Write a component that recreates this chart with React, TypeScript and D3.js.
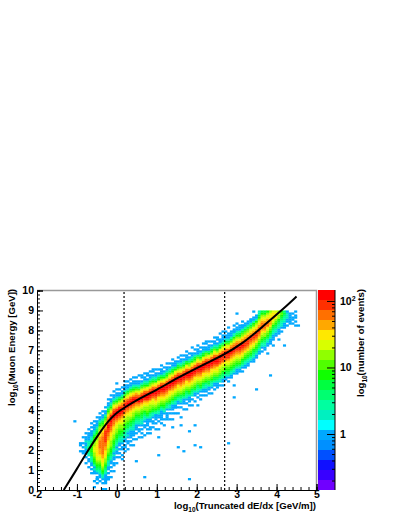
import React, { useRef, useEffect } from "react";
import * as d3 from "d3";

// 100 x 100 histogram, x from -2 to 5, y from 0 to 10
const xBinWidth = 0.07;
const yBinWidth = 0.1;
const firstColumn = 15;

// first filled y bin of each column, starting at firstColumn
const columnStarts = [
  19, 18, 13, 11, 8, 4, 3, 4, 0, 3, 5, 6, 9, 13, 16, 15, 19, 20, 22, 22,
  25, 25, 26, 27, 27, 28, 29, 29, 30, 31, 31, 32, 33, 34, 35, 36, 36, 37, 38, 38,
  39, 40, 41, 41, 42, 43, 43, 44, 45, 45, 46, 47, 48, 48, 49, 50, 51, 51, 52, 53,
  54, 55, 56, 57, 59, 60, 61, 62, 63, 65, 66, 67, 68, 70, 71, 74, 76, 82,
];

// events per y bin
const columnCounts = [
  [1, 0, 0, 1, 1],
  [1, 1, 0, 1, 0, 1, 0, 0, 1],
  [1, 0, 0, 1, 0, 1, 1, 1, 2, 1, 1, 2, 1, 1, 0, 1],
  [1, 0, 0, 1, 1, 0, 2, 3, 4, 5, 4, 3, 3, 2, 1, 1, 1, 1, 0, 1],
  [1, 0, 1, 0, 1, 1, 2, 3, 3, 6, 6, 7, 9, 9, 8, 6, 5, 3, 2, 1, 1, 1, 0, 1, 0, 1],
  [1, 0, 0, 0, 1, 1, 2, 1, 3, 5, 7, 9, 12, 15, 18, 20, 22, 20, 17, 14, 12, 9, 7, 5, 3, 2, 1, 1, 1, 0, 1],
  [1, 0, 1, 1, 0, 1, 2, 4, 6, 9, 12, 15, 19, 23, 28, 32, 34, 34, 32, 28, 24, 20, 17, 14, 11, 8, 6, 4, 2, 1, 1, 1, 0, 1],
  [1, 0, 1, 1, 2, 3, 4, 6, 8, 11, 15, 19, 24, 31, 38, 45, 50, 52, 54, 54, 52, 48, 42, 36, 30, 24, 18, 13, 9, 6, 3, 1, 1, 0, 1],
  [1, 0, 0, 1, 0, 1, 2, 3, 5, 8, 11, 15, 19, 24, 30, 36, 42, 48, 52, 56, 60, 66, 70, 72, 70, 66, 58, 50, 42, 33, 25, 18, 12, 8, 5, 3, 1, 1, 0, 1],
  [1, 0, 1, 1, 1, 2, 3, 4, 6, 8, 11, 14, 18, 22, 26, 31, 36, 42, 50, 58, 66, 74, 84, 92, 96, 90, 78, 62, 46, 34, 24, 16, 10, 6, 3, 1, 1, 0, 1],
  [1, 1, 0, 1, 0, 1, 1, 2, 2, 3, 5, 6, 8, 11, 13, 16, 19, 23, 27, 32, 38, 45, 54, 64, 76, 90, 104, 112, 100, 80, 58, 40, 26, 16, 9, 5, 2, 1, 1, 0, 1],
  [1, 0, 0, 1, 0, 1, 0, 1, 1, 2, 3, 4, 5, 7, 9, 11, 13, 15, 18, 21, 25, 30, 36, 44, 54, 66, 82, 100, 122, 130, 104, 74, 48, 30, 17, 9, 4, 2, 1, 1, 0, 1],
  [1, 0, 0, 1, 1, 0, 1, 1, 2, 1, 2, 3, 5, 6, 8, 9, 12, 14, 17, 20, 24, 29, 35, 43, 54, 68, 88, 112, 135, 120, 88, 58, 36, 20, 11, 5, 2, 1, 1, 0, 1],
  [1, 0, 0, 1, 0, 1, 1, 2, 1, 2, 3, 4, 5, 7, 9, 11, 13, 16, 20, 25, 32, 42, 56, 78, 108, 135, 116, 80, 50, 30, 16, 8, 4, 2, 1, 1, 0, 1],
  [1, 0, 1, 0, 1, 0, 1, 1, 2, 3, 4, 5, 7, 9, 11, 14, 18, 23, 30, 42, 58, 82, 115, 138, 112, 76, 48, 28, 15, 8, 4, 1, 1, 0, 1],
  [1, 0, 1, 0, 0, 1, 1, 0, 1, 2, 2, 3, 5, 6, 8, 10, 13, 16, 20, 26, 34, 46, 64, 92, 125, 135, 100, 68, 42, 24, 13, 6, 3, 1, 1, 0, 1],
  [1, 0, 1, 1, 0, 1, 1, 2, 2, 3, 4, 6, 7, 9, 11, 14, 18, 24, 32, 44, 62, 92, 125, 130, 94, 62, 38, 22, 12, 6, 3, 1, 1, 1, 0, 1],
  [1, 0, 0, 1, 1, 0, 1, 2, 1, 2, 3, 5, 6, 8, 11, 14, 18, 24, 32, 44, 64, 95, 128, 128, 90, 60, 36, 21, 11, 5, 2, 1, 1, 0, 1],
  [1, 0, 1, 0, 1, 1, 1, 1, 2, 3, 5, 6, 8, 11, 14, 19, 25, 34, 48, 70, 100, 130, 118, 84, 54, 33, 19, 10, 5, 2, 1, 1, 0, 1],
  [1, 0, 0, 1, 0, 1, 1, 1, 2, 2, 3, 4, 6, 8, 10, 14, 18, 24, 33, 48, 70, 102, 128, 112, 78, 50, 30, 17, 9, 4, 2, 1, 1, 0, 1],
  [1, 0, 0, 1, 0, 1, 1, 1, 2, 3, 4, 6, 8, 11, 15, 21, 30, 46, 70, 102, 126, 100, 64, 38, 21, 11, 5, 2, 1, 1, 0, 1],
  [0, 1, 0, 0, 1, 1, 0, 1, 2, 3, 4, 6, 9, 12, 15, 22, 32, 48, 72, 104, 128, 96, 62, 36, 20, 10, 4, 2, 1, 1, 0, 0, 1],
  [1, 0, 1, 0, 1, 0, 1, 2, 2, 3, 5, 6, 9, 12, 16, 22, 31, 47, 74, 108, 132, 98, 60, 35, 19, 10, 5, 2, 1, 0, 1, 1],
  [1, 0, 0, 0, 1, 1, 0, 1, 2, 2, 4, 6, 9, 13, 17, 23, 33, 50, 76, 106, 130, 94, 58, 34, 18, 9, 4, 2, 1, 1, 0, 1],
  [0, 1, 0, 1, 0, 1, 1, 1, 1, 3, 5, 7, 10, 13, 18, 24, 34, 50, 78, 110, 134, 96, 60, 35, 19, 9, 4, 2, 1, 0, 1, 1],
  [1, 0, 0, 1, 0, 0, 1, 1, 2, 3, 4, 7, 10, 14, 18, 25, 35, 52, 78, 108, 136, 98, 61, 34, 18, 10, 5, 2, 1, 1, 0, 1],
  [0, 0, 1, 0, 1, 1, 0, 1, 2, 2, 5, 7, 10, 14, 19, 25, 36, 54, 80, 112, 132, 94, 58, 33, 18, 9, 4, 2, 1, 0, 1, 1],
  [0, 1, 0, 0, 1, 0, 1, 1, 1, 3, 4, 7, 11, 15, 19, 26, 37, 53, 82, 114, 138, 100, 62, 35, 19, 9, 4, 2, 1, 1, 0, 1],
  [1, 0, 0, 0, 1, 0, 1, 1, 2, 3, 5, 7, 10, 14, 20, 27, 36, 55, 80, 110, 135, 96, 60, 34, 19, 9, 5, 2, 1, 0, 1],
  [0, 0, 1, 0, 0, 1, 1, 1, 1, 2, 4, 7, 10, 15, 20, 26, 38, 56, 82, 112, 140, 100, 62, 36, 18, 9, 4, 1, 1, 1, 0, 1],
  [0, 1, 0, 0, 1, 0, 0, 1, 2, 3, 5, 7, 11, 15, 19, 27, 37, 54, 84, 115, 136, 98, 59, 35, 19, 9, 4, 2, 1, 0, 1],
  [0, 0, 0, 1, 0, 1, 1, 0, 1, 3, 4, 6, 10, 14, 20, 26, 38, 56, 80, 110, 138, 96, 62, 34, 18, 9, 5, 2, 1, 1, 0, 1],
  [0, 0, 1, 0, 0, 1, 0, 1, 2, 2, 5, 7, 10, 15, 19, 27, 36, 55, 82, 114, 134, 100, 60, 36, 19, 10, 4, 2, 1, 0, 1],
  [0, 1, 0, 0, 1, 0, 1, 1, 1, 3, 4, 7, 11, 15, 20, 26, 38, 54, 84, 112, 140, 98, 62, 35, 18, 8, 5, 2, 1, 1, 0, 1],
  [0, 0, 0, 1, 0, 0, 1, 1, 2, 2, 5, 6, 10, 14, 19, 27, 37, 56, 80, 110, 136, 96, 59, 34, 19, 9, 4, 1, 1, 1],
  [0, 0, 1, 0, 0, 1, 0, 1, 1, 3, 4, 7, 10, 15, 20, 26, 36, 54, 82, 114, 138, 100, 61, 36, 18, 9, 5, 2, 1, 0, 1],
  [1, 0, 0, 0, 0, 1, 0, 1, 2, 2, 4, 6, 11, 14, 19, 27, 38, 55, 84, 110, 134, 96, 60, 35, 19, 10, 4, 2, 1, 1, 0, 1],
  [0, 0, 0, 1, 0, 0, 1, 1, 1, 3, 5, 7, 10, 15, 20, 26, 37, 56, 80, 112, 140, 98, 62, 34, 18, 9, 4, 2, 1, 0, 1],
  [0, 0, 1, 0, 0, 1, 0, 1, 2, 3, 4, 6, 10, 14, 19, 27, 36, 54, 82, 110, 136, 100, 59, 36, 19, 9, 5, 1, 1, 1, 0, 1],
  [0, 0, 0, 0, 1, 0, 1, 1, 1, 2, 5, 7, 11, 15, 20, 26, 38, 55, 84, 114, 138, 96, 61, 35, 18, 10, 4, 2, 1, 0, 1],
  [0, 0, 0, 1, 0, 0, 1, 0, 2, 3, 4, 6, 10, 14, 19, 27, 37, 56, 80, 112, 134, 98, 60, 34, 19, 9, 4, 2, 1, 1, 0, 0, 1],
  [0, 0, 0, 0, 1, 0, 0, 1, 1, 2, 5, 7, 10, 15, 20, 26, 36, 54, 82, 110, 140, 100, 62, 36, 18, 9, 5, 2, 1, 0, 1],
  [0, 1, 0, 0, 0, 1, 0, 1, 2, 3, 4, 6, 11, 14, 19, 27, 38, 55, 84, 114, 136, 96, 59, 35, 19, 10, 4, 1, 1, 1, 0, 1],
  [0, 0, 0, 0, 1, 0, 1, 0, 1, 2, 5, 7, 10, 15, 20, 26, 37, 56, 80, 110, 138, 98, 61, 34, 18, 9, 4, 2, 1, 0, 1],
  [0, 0, 0, 0, 0, 1, 0, 1, 1, 3, 4, 6, 10, 14, 19, 27, 36, 54, 82, 112, 134, 100, 60, 36, 19, 9, 5, 2, 1, 1, 0, 1],
  [0, 0, 0, 0, 1, 0, 1, 1, 2, 2, 4, 7, 11, 15, 20, 26, 38, 55, 84, 110, 130, 96, 62, 35, 18, 10, 4, 2, 1, 0, 1, 1],
  [0, 0, 0, 0, 0, 1, 0, 1, 1, 3, 5, 6, 10, 14, 19, 27, 37, 56, 80, 112, 128, 98, 59, 34, 19, 9, 4, 1, 1, 1, 0, 1],
  [0, 0, 0, 0, 1, 0, 0, 1, 2, 2, 4, 7, 10, 15, 20, 26, 36, 54, 82, 108, 126, 96, 61, 36, 18, 9, 5, 2, 1, 0, 1],
  [0, 0, 0, 0, 0, 1, 0, 1, 1, 3, 5, 6, 10, 14, 19, 26, 37, 55, 80, 106, 124, 94, 60, 35, 19, 10, 4, 2, 1, 1, 0, 1],
  [0, 0, 0, 0, 0, 0, 1, 1, 1, 2, 4, 6, 10, 14, 19, 26, 36, 54, 78, 104, 122, 92, 60, 34, 18, 9, 4, 2, 1, 0, 1, 1],
  [0, 0, 0, 0, 0, 0, 1, 0, 2, 2, 4, 6, 10, 13, 18, 25, 36, 53, 78, 102, 120, 90, 58, 36, 19, 9, 5, 2, 1, 1, 0, 0, 1],
  [0, 0, 0, 0, 0, 1, 0, 1, 1, 3, 4, 6, 9, 13, 18, 25, 35, 52, 76, 100, 118, 88, 58, 34, 20, 10, 4, 2, 1, 1, 1, 0, 1],
  [0, 0, 0, 0, 0, 0, 0, 1, 1, 2, 4, 6, 9, 12, 18, 24, 34, 52, 74, 98, 116, 88, 58, 35, 20, 10, 5, 2, 1, 1, 0, 1],
  [0, 0, 0, 0, 0, 0, 1, 0, 1, 2, 4, 5, 9, 12, 17, 24, 34, 50, 74, 96, 114, 90, 60, 36, 21, 11, 5, 2, 1, 1, 1, 0, 0, 1],
  [0, 0, 0, 0, 0, 0, 0, 1, 1, 2, 3, 5, 8, 12, 16, 23, 33, 50, 72, 94, 112, 90, 60, 37, 22, 12, 6, 3, 1, 1, 1],
  [0, 0, 0, 0, 0, 0, 0, 0, 1, 2, 3, 5, 8, 11, 16, 22, 32, 48, 72, 92, 110, 90, 62, 38, 23, 13, 7, 3, 2, 1, 1, 0, 1],
  [0, 0, 0, 0, 0, 0, 0, 1, 1, 1, 3, 5, 7, 11, 15, 22, 32, 48, 70, 90, 108, 90, 64, 40, 25, 15, 8, 4, 2, 1, 1, 0, 1],
  [0, 0, 0, 0, 0, 0, 0, 0, 1, 1, 2, 4, 7, 10, 14, 21, 30, 46, 68, 86, 106, 90, 66, 44, 28, 17, 9, 5, 3, 1, 1, 1],
  [0, 0, 0, 0, 0, 0, 0, 1, 0, 1, 2, 4, 6, 9, 13, 20, 28, 42, 62, 82, 104, 90, 68, 46, 30, 18, 11, 6, 3, 1, 1, 0, 1],
  [0, 0, 0, 0, 0, 0, 0, 0, 1, 1, 2, 3, 6, 8, 12, 18, 26, 38, 56, 76, 102, 90, 70, 46, 30, 18, 11, 6, 3, 1, 1],
  [0, 0, 0, 0, 0, 0, 0, 0, 1, 1, 2, 3, 6, 8, 12, 18, 26, 38, 56, 74, 100, 90, 70, 46, 30, 18, 11, 6, 3, 1, 1],
  [0, 0, 0, 0, 0, 0, 0, 0, 0, 1, 2, 3, 5, 7, 11, 16, 23, 34, 50, 70, 96, 86, 68, 46, 30, 19, 12, 6, 3, 1, 1],
  [0, 0, 0, 0, 0, 0, 0, 0, 1, 0, 2, 3, 4, 6, 9, 14, 20, 30, 44, 66, 92, 84, 66, 46, 30, 20, 12, 7, 3, 1, 1],
  [0, 0, 0, 0, 0, 0, 0, 0, 0, 1, 1, 2, 4, 6, 8, 12, 18, 26, 38, 62, 88, 80, 64, 46, 30, 20, 13, 7, 3, 1, 1],
  [0, 0, 0, 0, 0, 0, 0, 0, 0, 1, 1, 2, 4, 6, 8, 12, 18, 26, 38, 58, 82, 78, 62, 44, 30, 20, 13, 8, 5, 3, 2],
  [0, 0, 0, 0, 0, 0, 0, 0, 0, 1, 0, 1, 2, 3, 5, 7, 10, 15, 22, 32, 50, 74, 72, 58, 44, 30, 21, 13, 9, 5],
  [0, 0, 0, 0, 0, 0, 0, 0, 0, 1, 1, 2, 3, 4, 6, 9, 13, 18, 28, 44, 64, 66, 54, 42, 30, 20, 14, 9, 5],
  [0, 0, 0, 0, 0, 0, 0, 0, 0, 0, 1, 1, 2, 3, 5, 7, 10, 14, 22, 36, 54, 60, 50, 40, 30, 20, 14, 8],
  [0, 0, 0, 0, 0, 0, 0, 0, 0, 0, 1, 1, 1, 2, 4, 6, 8, 11, 17, 28, 44, 50, 44, 36, 28, 20, 13],
  [0, 0, 0, 0, 0, 0, 0, 0, 0, 0, 1, 1, 1, 2, 3, 4, 6, 9, 13, 20, 34, 40, 36, 28, 20],
  [0, 0, 0, 0, 0, 0, 0, 0, 0, 0, 0, 1, 1, 2, 2, 4, 5, 8, 11, 18, 26, 32, 28, 20],
  [0, 0, 0, 0, 0, 0, 0, 0, 0, 0, 0, 1, 1, 1, 2, 3, 4, 6, 8, 13, 18, 20, 16],
  [0, 0, 0, 0, 0, 0, 0, 0, 0, 0, 0, 1, 0, 1, 2, 2, 3, 4, 6, 9, 10, 8],
  [0, 0, 0, 0, 0, 0, 0, 0, 0, 0, 0, 1, 1, 1, 2, 3, 3, 4, 5, 4],
  [0, 0, 0, 0, 0, 0, 0, 0, 0, 0, 0, 1, 0, 1, 1, 2, 2, 2, 1],
  [0, 0, 0, 0, 0, 0, 0, 0, 0, 1, 1, 1, 1, 1, 1],
  [0, 0, 0, 0, 0, 0, 0, 1, 0, 1, 1, 0, 1],
  [1, 0, 1, 0, 1, 1],
];

// isolated single-event cells away from the band: [column, y bin]
const strayCells = [
  [13, 34], [38, 6], [54, 5], [35, 14], [43, 17], [50, 21], [52, 19], [56, 22], [54, 29], [51, 32],
  [48, 31], [56, 32], [58, 21], [43, 26], [40, 30], [44, 35], [46, 36], [49, 41], [42, 37], [28, 53],
  [25, 5], [21, 5], [24, 4], [24, 0], [20, 1], [68, 23], [70, 46], [70, 52], [78, 50], [83, 57],
  [88, 72], [71, 88], [93, 82], [92, 89], [86, 75], [84, 72], [82, 68], [77, 65], [77, 89], [73, 82],
  [70, 79], [76, 85], [65, 74], [60, 70],
];

// fitted energy curve
const fitX = [-1.33, -1, -0.72, -0.42, -0.2, 0, 0.18, 0.58, 1, 1.5, 2.08, 2.7, 3.15, 3.57, 4.07, 4.5];
const fitY = [0, 1.05, 2, 2.9, 3.5, 3.88, 4.12, 4.6, 5.02, 5.6, 6.2, 6.8, 7.35, 8.05, 8.9, 9.7];

const cutLines = [0.18, 2.7];

const paletteColors = [
  "#7000ff", "#3800ff", "#1010ff", "#0050ff", "#0090ff", "#00a8ff", "#00ffff", "#00f0c0", "#00ffa0", "#00ff70",
  "#00ff40", "#10ff00", "#50ff00", "#90ff00", "#d8ff00", "#ffe800", "#ffa800", "#ff7000", "#ff3000", "#ff0000",
];
const zMin = 0.144;
const zMax = 146;

const xMajor = [-2, -1, 0, 1, 2, 3, 4, 5];
const yMajor = [0, 1, 2, 3, 4, 5, 6, 7, 8, 9, 10];
const zMajor = [1, 10, 100];
const zMinor = [0.2, 0.3, 0.4, 0.5, 0.6, 0.7, 0.8, 0.9, 2, 3, 4, 5, 6, 7, 8, 9, 20, 30, 40, 50, 60, 70, 80, 90];

const font = "'Liberation Sans', Arial, sans-serif";

const App = () => {
  const svgRef = useRef<SVGSVGElement>(null);

  useEffect(() => {
    const svg = d3.select(svgRef.current);
    svg.selectAll("*").remove();

    const x = d3.scaleLinear().domain([-2, 5]).range([37, 316.5]);
    const y = d3.scaleLinear().domain([0, 10]).range([490, 290.5]);
    const zPos = d3.scaleLog().domain([zMin, zMax]).range([490, 290]);
    const zBand = d3
      .scaleQuantize<string>()
      .domain([Math.log10(zMin), Math.log10(zMax)])
      .range(paletteColors);

    // Histogram cells
    const cells: { col: number; bin: number; n: number }[] = [];
    columnCounts.forEach((counts, i) => {
      counts.forEach((n, j) => {
        if (n > 0) cells.push({ col: firstColumn + i, bin: columnStarts[i] + j, n });
      });
    });
    strayCells.forEach(([col, bin]) => cells.push({ col, bin, n: 1 }));

    const cellW = x(xBinWidth) - x(0);
    const cellH = y(0) - y(yBinWidth);
    svg
      .append("g")
      .selectAll("rect")
      .data(cells)
      .enter()
      .append("rect")
      .attr("x", (d) => x(-2 + d.col * xBinWidth))
      .attr("y", (d) => y((d.bin + 1) * yBinWidth))
      .attr("width", cellW + 0.3)
      .attr("height", cellH + 0.3)
      .attr("fill", (d) => zBand(Math.log10(d.n)));

    // Frame, top and right in gray
    svg
      .append("path")
      .attr("d", `M${x(-2)},${y(10)}H${x(5)}V${y(0)}`)
      .attr("fill", "none")
      .attr("stroke", "#999")
      .attr("stroke-width", 1.5);

    // Cut lines
    svg
      .selectAll("line.cut")
      .data(cutLines)
      .enter()
      .append("line")
      .attr("class", "cut")
      .attr("x1", (d) => x(d))
      .attr("x2", (d) => x(d))
      .attr("y1", y(0))
      .attr("y2", y(10))
      .attr("stroke", "#000")
      .attr("stroke-width", 1.2)
      .attr("stroke-dasharray", "2,2");

    // Fit
    const line = d3
      .line<number>()
      .x((d) => x(d))
      .y((_, i) => y(fitY[i]))
      .curve(d3.curveBasis);
    svg
      .append("path")
      .attr("d", line(fitX))
      .attr("fill", "none")
      .attr("stroke", "#000")
      .attr("stroke-width", 2);

    // Axes
    const xMinorVals = d3.range(-2, 5.01, 0.2);
    const yMinorVals = d3.range(0, 10.01, 0.2);

    svg
      .append("g")
      .attr("transform", `translate(0,${y(0)})`)
      .call(d3.axisBottom(x).tickValues(xMinorVals).tickSize(-3).tickFormat(() => ""));
    svg
      .append("g")
      .attr("class", "lbl")
      .attr("transform", `translate(0,${y(0)})`)
      .call(d3.axisBottom(x).tickValues(xMajor).tickSize(-6).tickPadding(1).tickFormat((d) => String(d)));

    svg
      .append("g")
      .attr("transform", `translate(${x(-2)},0)`)
      .call(d3.axisLeft(y).tickValues(yMinorVals).tickSize(-3).tickFormat(() => ""));
    svg
      .append("g")
      .attr("class", "lbl")
      .attr("transform", `translate(${x(-2)},0)`)
      .call(d3.axisLeft(y).tickValues(yMajor).tickSize(-6).tickPadding(3).tickFormat((d) => String(d)));

    // Palette
    svg
      .append("g")
      .attr("shape-rendering", "crispEdges")
      .selectAll("rect")
      .data(paletteColors)
      .enter()
      .append("rect")
      .attr("x", 318)
      .attr("y", (_, i) => 480 - i * 10)
      .attr("width", 17)
      .attr("height", 10)
      .attr("fill", (d) => d);

    svg
      .append("g")
      .attr("transform", "translate(335,0)")
      .call(d3.axisRight(zPos).tickValues(zMinor).tickSize(-3).tickFormat(() => ""))
      .select(".domain")
      .remove();
    const zAxis = svg
      .append("g")
      .attr("class", "lbl")
      .attr("transform", "translate(335,0)")
      .call(
        d3
          .axisRight(zPos)
          .tickValues(zMajor)
          .tickSize(-8)
          .tickPadding(5)
          .tickFormat((d) => (+d === 100 ? "10" : String(d)))
      );
    zAxis.select(".domain").attr("d", "M0,490V290");
    zAxis
      .selectAll<SVGTextElement, number>("text")
      .filter((d) => d === 100)
      .append("tspan")
      .attr("dy", -4)
      .attr("font-size", 7)
      .text("2");

    svg
      .selectAll(".lbl text")
      .attr("font-family", font)
      .attr("font-weight", "bold")
      .attr("font-size", 10.5)
      .attr("fill", "#000");

    // Axis titles
    const title = (tx: number, ty: number, rotate: boolean, rest: string, anchor: string) => {
      const t = svg
        .append("text")
        .attr("transform", `translate(${tx},${ty})${rotate ? " rotate(-90)" : ""}`)
        .attr("font-family", font)
        .attr("font-weight", "bold")
        .attr("font-size", 9.6)
        .attr("text-anchor", anchor);
      t.append("tspan").text("log");
      t.append("tspan").attr("dy", 3).attr("font-size", 6.5).text("10");
      t.append("tspan").attr("dy", -3).text(rest);
    };
    title(316, 509, false, "(Truncated dE/dx [GeV/m])", "end");
    title(15, 406, true, "(Muon Energy [GeV])", "start");
    title(364, 397, true, "(number of events)", "start");
  }, []);

  return <svg ref={svgRef} width={399} height={516} style={styles.svg} />;
};

const styles = {
  svg: { position: "absolute", left: 0, top: 0, background: "#fff" } as React.CSSProperties,
};

export default App;
